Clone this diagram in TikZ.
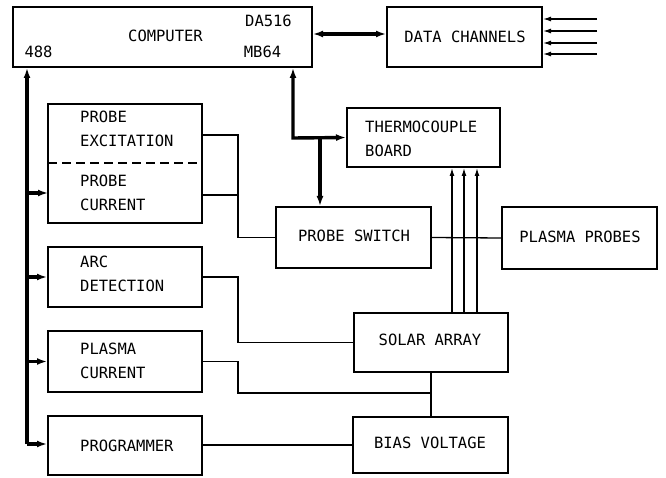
\documentclass[tikz,border=0pt]{standalone}
\usepackage{fontspec}
\newfontfamily\labelfont{DejaVu Sans Mono}
\usetikzlibrary{arrows.meta}
\begin{document}
\begin{tikzpicture}[x=1pt,y=-1pt,
  box/.style={draw, line width=2pt, inner sep=0pt},
  lbl/.style={font=\labelfont\fontsize{15.5}{24}\selectfont, inner sep=0pt, align=left},
  wire/.style={line width=1.3pt},
  busline/.style={line width=3.4pt},
  bigtip/.style={-{Latex[length=10pt,width=7pt]}},
  bigtips/.style={{Latex[length=10pt,width=7pt]}-{Latex[length=10pt,width=7pt]}},
  smalltip/.style={-{Latex[length=8pt,width=5pt]}}
]
\useasboundingbox (0,0) rectangle (666,478);

% boxes
\node[box, minimum width=299pt, minimum height=60pt] (comp) at (162.5,37) {};
\node[box, minimum width=155pt, minimum height=60pt] (dc) at (464.5,37) {};
\node[box, minimum width=154pt, minimum height=119pt] (probe) at (125,163.5) {};
\node[box, minimum width=154pt, minimum height=60pt] (arc) at (125,277) {};
\node[box, minimum width=154pt, minimum height=61pt] (pcur) at (125,361.5) {};
\node[box, minimum width=154pt, minimum height=59pt] (prog) at (125,445.5) {};
\node[box, minimum width=153pt, minimum height=59pt] (thermo) at (423.5,137.5) {};
\node[box, minimum width=155pt, minimum height=61pt] (psw) at (353.5,237.5) {};
\node[box, minimum width=155pt, minimum height=62pt] (pprobes) at (579.5,238) {};
\node[box, minimum width=154pt, minimum height=59pt] (solar) at (431,342.5) {};
\node[box, minimum width=155pt, minimum height=56pt] (bias) at (430.5,445) {};

% dashed divider in probe box
\coordinate (dl) at (48,163);
\coordinate (dr) at (202,163);
\draw[line width=1.3pt, dash pattern=on 9pt off 5pt] (dl) -- (dr);

% texts
\node[lbl, anchor=center] (tcomp) at (165.5,36) {COMPUTER};
\node[lbl, anchor=center] (tda) at (268.5,21) {DA516};
\node[lbl, anchor=center] (tmb) at (262.5,52) {MB64};
\node[lbl, anchor=center] (t488) at (38.5,52) {488};
\node[lbl, anchor=center] (tdc) at (465,37) {DATA CHANNELS};
\node[lbl, anchor=west] (tpe) at (80,129) {PROBE\\EXCITATION};
\node[lbl, anchor=west] (tpc) at (80,193) {PROBE\\CURRENT};
\node[lbl, anchor=west] (tarc) at (80,274) {ARC\\DETECTION};
\node[lbl, anchor=west] (tplc) at (80,361) {PLASMA\\CURRENT};
\node[lbl, anchor=west] (tprog) at (80,446) {PROGRAMMER};
\node[lbl, anchor=west] (tth) at (365,139) {THERMOCOUPLE\\BOARD};
\node[lbl, anchor=center] (tpsw) at (354,236) {PROBE SWITCH};
\node[lbl, anchor=center] (tpp) at (580,237) {PLASMA PROBES};
\node[lbl, anchor=center] (tsol) at (430,340) {SOLAR ARRAY};
\node[lbl, anchor=center] (tbias) at (430,443) {BIAS VOLTAGE};

% left bus
\coordinate (busbot) at (27,444);
\coordinate (pcin) at (48,193);
\draw[busline, bigtip] (busbot) -- (busbot |- comp.south);
\draw[busline, bigtip] (busbot) -- (prog.west |- busbot);
\draw[busline, bigtip] (busbot |- pcin) -- (pcin);
\draw[busline, bigtip] (busbot |- arc.west) -- (arc.west);
\draw[busline, bigtip] (busbot |- pcur.west) -- (pcur.west);

% computer <-> data channels
\coordinate (cdy) at (0,34);
\draw[busline, bigtips] (comp.east |- cdy) -- (dc.west |- cdy);

% inputs to data channels
\foreach \yy [count=\i] in {19,31,43,54} {
  \coordinate (in\i) at (597,\yy);
  \draw[wire, smalltip] (in\i) -- (dc.east |- in\i);
}

% bus to thermocouple and probe switch
\coordinate (bt) at (293,138);
\coordinate (bj) at (320,138);
\draw[busline, bigtips] (comp.south -| bt) -- (bt) -- (thermo.west);
\draw[busline, bigtip] (bj) -- (psw.north -| bj);

% probe wires
\coordinate (pex) at (202,135);
\coordinate (pcx) at (202,195);
\coordinate (pj) at (238,135);
\draw[wire] (pex) -- (pj) -- (pj |- psw.west) -- (psw.west);
\draw[wire] (pcx) -- (pj |- pcx);
\draw[wire] (psw.east) -- (pprobes.west);

% arc detection to solar array
\draw[wire] (arc.east) -- (pj |- arc.east) -- (pj |- solar.west) -- (solar.west);
% plasma current to solar/bias line
\coordinate (pcy) at (238,393);
\draw[wire] (pcur.east) -- (pj |- pcur.east) -- (pcy) -- (solar.south |- pcy);
\draw[wire] (solar.south) -- (solar.south |- bias.north);
% programmer to bias
\draw[wire] (prog.east |- bias.west) -- (bias.west);

% solar array to thermocouple
\foreach \xx in {452,464,477} {
  \coordinate (sx) at (\xx,0);
  \draw[wire, smalltip] (solar.north -| sx) -- (thermo.south -| sx);
}
\end{tikzpicture}
\end{document}
